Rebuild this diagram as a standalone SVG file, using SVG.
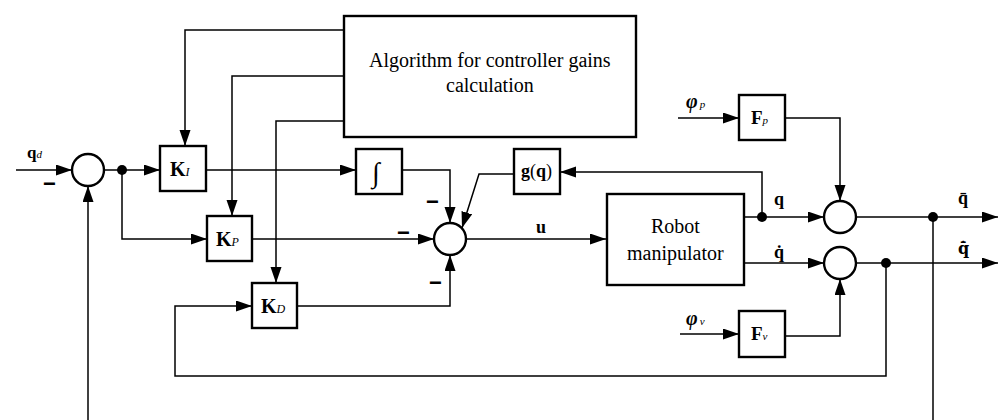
<svg xmlns="http://www.w3.org/2000/svg" width="1000" height="420" viewBox="0 0 1000 420">
<defs>
<marker id="ar" markerUnits="userSpaceOnUse" markerWidth="17" markerHeight="12" refX="16" refY="5.5" orient="auto">
<path d="M0,0 L16,5.5 L0,11 z" fill="#000"/>
</marker>
</defs>
<rect width="1000" height="420" fill="#fff"/>

<g id="connectors" fill="none" stroke="#000" stroke-width="1.5">
<path marker-end="url(#ar)" d="M16,170 H72"/>
<path marker-end="url(#ar)" d="M104,170 H160"/>
<path marker-end="url(#ar)" d="M122,170 V239 H207"/>
<path marker-end="url(#ar)" d="M344,30 H185 V146"/>
<path marker-end="url(#ar)" d="M344,76 H232 V216"/>
<path marker-end="url(#ar)" d="M344,121 H276 V283"/>
<path marker-end="url(#ar)" d="M206,170 H356"/>
<path marker-end="url(#ar)" d="M402,170 H450 V223"/>
<path marker-end="url(#ar)" d="M252,239 H434"/>
<path marker-end="url(#ar)" d="M297,306 H450 V255"/>
<path marker-end="url(#ar)" d="M514,174 H479 L462,228"/>
<path marker-end="url(#ar)" d="M466,239 H606"/>
<path marker-end="url(#ar)" d="M744,217 H824"/>
<path marker-end="url(#ar)" d="M762,217 V172 H560"/>
<path marker-end="url(#ar)" d="M744,263 H824"/>
<path marker-end="url(#ar)" d="M856,217 H998"/>
<path d="M933,217 V420"/>
<path marker-end="url(#ar)" d="M856,263 H998"/>
<path marker-end="url(#ar)" d="M886,263 V376 H175 V306 H252"/>
<path marker-end="url(#ar)" d="M88,420 V186"/>
<path marker-end="url(#ar)" d="M678,118 H739"/>
<path marker-end="url(#ar)" d="M785,118 H840 V201"/>
<path marker-end="url(#ar)" d="M680,334 H739"/>
<path marker-end="url(#ar)" d="M785,336 H840 V279"/>
<g fill="#000" stroke="none">
<circle cx="122" cy="170" r="5"/>
<circle cx="762" cy="217" r="5"/>
<circle cx="933" cy="217" r="5"/>
<circle cx="886" cy="263" r="5"/>
</g>
</g>

<g id="nodes" fill="#fff" stroke="#000" stroke-width="2.4">
<g id="algorithm"><rect x="344" y="16" width="292" height="121"/></g>
<g id="sum1"><circle cx="88" cy="170" r="16"/></g>
<g id="sum2"><circle cx="450" cy="239" r="16"/></g>
<g id="sum3"><circle cx="840" cy="217" r="16"/></g>
<g id="sum4"><circle cx="840" cy="263" r="16"/></g>
<g id="KI"><rect x="160" y="146" width="46" height="45"/></g>
<g id="KP"><rect x="207" y="216" width="45" height="45"/></g>
<g id="KD"><rect x="252" y="283" width="45" height="45"/></g>
<g id="integrator"><rect x="356" y="149" width="46" height="45"/></g>
<g id="gq"><rect x="514" y="149" width="46" height="45"/></g>
<g id="robot"><rect x="607" y="194" width="137" height="91"/></g>
<g id="Fp"><rect x="739" y="95" width="46" height="45"/></g>
<g id="Fv"><rect x="739" y="311" width="46" height="46"/></g>
</g>

<g id="texts">
<text font-family="Liberation Serif" x="369" y="67" font-size="20">Algorithm for controller gains</text>
<text font-family="Liberation Serif" x="446" y="92" font-size="20">calculation</text>
<text font-family="Liberation Serif" x="170" y="176" font-size="20"><tspan font-weight="bold">K</tspan><tspan font-style="italic" font-size="12">I</tspan></text>
<text font-family="Liberation Serif" x="216" y="246" font-size="20"><tspan font-weight="bold">K</tspan><tspan font-style="italic" font-size="12">P</tspan></text>
<text font-family="Liberation Serif" x="261" y="313" font-size="20"><tspan font-weight="bold">K</tspan><tspan font-style="italic" font-size="12">D</tspan></text>
<text font-family="Liberation Serif" x="372" y="182" font-size="28">∫</text>
<text font-family="Liberation Serif" x="521" y="177" font-size="18"><tspan font-weight="bold">g</tspan>(<tspan font-weight="bold">q</tspan>)</text>
<text font-family="Liberation Serif" x="651" y="233" font-size="20">Robot</text>
<text font-family="Liberation Serif" x="627" y="260" font-size="20">manipulator</text>
<text font-family="Liberation Serif" x="751" y="124" font-size="19"><tspan font-weight="bold">F</tspan><tspan font-style="italic" font-size="11">p</tspan></text>
<text font-family="Liberation Serif" x="751" y="340" font-size="19"><tspan font-weight="bold">F</tspan><tspan font-style="italic" font-size="11">v</tspan></text>
<text font-family="Liberation Serif" x="27" y="158" font-size="17"><tspan font-weight="bold">q</tspan><tspan font-style="italic" font-size="11">d</tspan></text>
<text font-family="Liberation Serif" font-weight="bold" x="536" y="233" font-size="18">u</text>
<text font-family="Liberation Serif" font-weight="bold" x="774" y="205" font-size="18">q</text>
<text font-family="Liberation Serif" font-weight="bold" x="774" y="258" font-size="18">q̇</text>
<text font-family="Liberation Serif" font-weight="bold" x="958" y="204" font-size="18">q̄</text>
<text font-family="DejaVu Serif" font-weight="bold" x="958" y="254" font-size="16">q̄̇</text>
<text font-family="Liberation Serif" x="686" y="108" font-size="20"><tspan font-weight="bold" font-style="italic">φ</tspan><tspan font-style="italic" font-size="11" dx="2">p</tspan></text>
<text font-family="Liberation Serif" x="686" y="325" font-size="20"><tspan font-weight="bold" font-style="italic">φ</tspan><tspan font-style="italic" font-size="11" dx="2">v</tspan></text>
<text font-family="Liberation Sans" font-weight="bold" font-size="22" x="43" y="191">−</text>
<text font-family="Liberation Sans" font-weight="bold" font-size="22" x="426" y="209">−</text>
<text font-family="Liberation Sans" font-weight="bold" font-size="22" x="397" y="240">−</text>
<text font-family="Liberation Sans" font-weight="bold" font-size="22" x="429" y="290">−</text>
</g>
</svg>
